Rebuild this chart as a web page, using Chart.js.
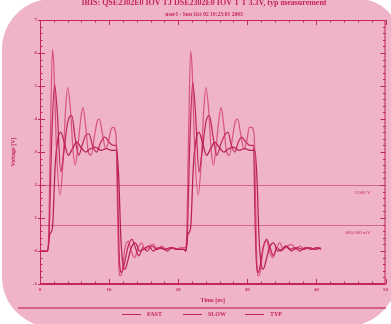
<!DOCTYPE html>
<html><head><meta charset="utf-8">
<script src="https://cdn.jsdelivr.net/npm/chart.js@4.4.1/dist/chart.umd.min.js"></script>
<style>html,body{margin:0;padding:0;background:#fff;}#wrap{width:391px;height:324px;}</style>
</head><body><div id="wrap"><canvas id="c" width="391" height="324"></canvas></div>
<script>
// ---- data ----
const seriesNames = ['FAST', 'SLOW', 'TYP'];

const fastTime = [0,1.0,1.2,1.5,1.8,2.0,2.4,2.9,3.3,3.7,4.0,4.4,4.8,5.1,5.5,5.9,6.2,6.6,7.0,7.4,7.9,8.3,8.6,9.0,9.5,9.9,10.3,10.6,11.0,11.2,11.4,11.6,11.9,12.3,12.8,13.2,13.7,14.2,14.7,15.2,15.8,16.4,17.0,17.6,18.3,19.0,19.7,20.4,21.0,
  21.2,21.5,21.8,22.0,22.4,22.9,23.3,23.7,24.0,24.4,24.8,25.1,25.5,25.9,26.2,26.6,27.0,27.4,27.9,28.3,28.6,29.0,29.5,29.9,30.3,30.6,31.0,31.2,31.4,31.6,31.9,32.3,32.8,33.2,33.7,34.2,34.7,35.2,35.8,36.4,37.0,37.6,38.3,39.0,39.7,40.4];
const fastVolt = [0,0,0.2,3.4,6.1,5.6,3.0,1.7,2.6,4.3,4.95,4.3,3.0,2.6,3.2,4.0,4.35,3.8,3.0,2.9,3.5,3.95,4.0,3.6,3.1,3.3,3.7,3.75,3.5,1.5,-0.4,-0.75,-0.6,0.1,0.3,0.0,-0.2,0.1,0.25,0.05,0.15,0.2,0.05,0.15,0.05,0.1,0.05,0.1,0.1,
  0.3,3.5,6.05,5.6,3.0,1.7,2.6,4.3,4.95,4.3,3.0,2.6,3.2,4.0,4.35,3.8,3.0,2.9,3.5,3.95,4.0,3.6,3.1,3.3,3.75,3.75,3.5,1.5,-0.4,-0.75,-0.6,0.1,0.3,0.0,-0.2,0.1,0.25,0.05,0.15,0.2,0.05,0.15,0.05,0.1,0.05,0.1];

const slowTime = [0,1.1,1.4,1.8,2.2,2.6,3.0,3.5,4.1,4.7,5.3,5.9,6.6,7.3,8.0,8.8,9.6,10.4,11.1,11.4,11.7,12.0,12.3,12.7,13.2,13.8,14.4,15.0,15.7,16.4,17.2,18.0,18.9,19.8,20.9,
  21.1,21.4,21.8,22.2,22.6,23.0,23.5,24.1,24.7,25.3,25.9,26.6,27.3,28.0,28.8,29.6,30.4,31.1,31.4,31.7,32.0,32.3,32.7,33.2,33.8,34.4,35.0,35.7,36.4,37.2,38.0,38.9,39.8,40.6];
const slowVolt = [0,0,0.5,0.7,2.6,3.4,3.6,3.3,2.9,3.1,3.3,3.15,3.0,3.1,3.15,3.05,3.1,3.05,3.05,2.2,0.4,-0.4,-0.55,-0.3,0.1,0.25,0.0,0.05,0.15,0.0,0.1,0.05,0.1,0.05,0.05,
  0.0,0.5,0.7,2.6,3.4,3.6,3.3,2.9,3.1,3.3,3.15,3.0,3.1,3.15,3.05,3.1,3.05,3.05,2.2,0.4,-0.4,-0.55,-0.3,0.1,0.25,0.0,0.05,0.15,0.0,0.1,0.05,0.1,0.05,0.1];

const typTime = [0,1.1,1.3,1.7,2.1,2.5,3.0,3.4,4.0,4.6,5.1,5.6,6.1,6.6,7.1,7.6,8.2,8.8,9.4,10.0,10.6,11.1,11.3,11.5,11.8,12.2,12.7,13.3,13.8,14.3,14.9,15.5,16.2,16.9,17.6,18.4,19.2,20.0,20.8,
  21.1,21.3,21.7,22.1,22.5,23.0,23.4,24.0,24.5,25.1,25.6,26.1,26.7,27.2,27.7,28.2,28.7,29.2,29.8,30.4,30.9,31.1,31.3,31.6,31.9,32.3,32.8,33.3,33.8,34.3,34.9,35.5,36.2,36.9,37.6,38.4,39.2,40.0,40.7];
const typVolt = [0,0,0.4,3.4,5.05,4.2,2.4,2.9,3.9,4.1,3.4,2.9,3.2,3.5,3.55,3.2,3.0,3.3,3.45,3.3,3.2,3.2,1.2,-0.3,-0.65,-0.4,0.1,0.35,0.1,-0.15,0.1,0.0,0.15,0.05,0.1,0.0,0.1,0.05,0.05,
  0,0.4,3.4,5.1,4.2,2.4,2.9,3.9,4.1,3.4,2.9,3.2,3.5,3.6,3.2,3.0,3.3,3.45,3.3,3.2,3.2,1.2,-0.3,-0.65,-0.4,0.1,0.35,0.1,-0.15,0.1,0.0,0.15,0.05,0.1,0.0,0.1,0.05,0.1,0.05];

const refLevels = [2.0, 0.8];
const refLabels = ['2.000 V', '800.000 mV'];
const titleText = 'IBIS: QSE2302E0 IOV TJ DSE2302E0 IOV T T 3.3V, typ measurement';
const subtitleText = 'user1 - Sun Oct 02 19:23:01 2003';
const xTitle = 'Time [ns]';
const yTitle = 'Voltage [V]';

// ---- styling ----
const INK = '#c4255c';
const CARD = '#efb4c9';
const FONT = '"Liberation Serif", "DejaVu Serif", serif';
const lineColors = ['rgba(205,45,95,0.7)', 'rgba(178,20,72,0.92)', 'rgba(186,22,76,0.88)'];

function pts(t, v) { return t.map((x, i) => ({x: x, y: v[i]})); }

const deco = {
  id: 'deco',
  beforeDraw(chart) {
    const c = chart.ctx;
    c.save();
    c.fillStyle = '#ffffff';
    c.fillRect(0, 0, chart.width, chart.height);
    c.fillStyle = CARD;
    c.beginPath();
    c.roundRect(2, -1, 397, 328, [50, 40, 55, 50]);
    c.fill();
    c.restore();
  },
  beforeDatasetsDraw(chart) {
    const c = chart.ctx, a = chart.chartArea, ys = chart.scales.y;
    c.save();
    c.strokeStyle = 'rgba(196,37,92,0.55)';
    c.lineWidth = 1;
    c.fillStyle = INK;
    c.font = '5px ' + FONT;
    c.textAlign = 'right';
    c.textBaseline = 'middle';
    refLevels.forEach((lv, i) => {
      const y = Math.round(ys.getPixelForValue(lv)) + 0.5;
      c.beginPath(); c.moveTo(a.left, y); c.lineTo(a.right, y); c.stroke();
      c.fillText(refLabels[i], a.right - 15, y + 7);
    });
    c.restore();
  },
  afterDraw(chart) {
    const c = chart.ctx, a = chart.chartArea, xs = chart.scales.x, ys = chart.scales.y;
    c.save();
    c.strokeStyle = INK;
    c.lineWidth = 1;
    c.strokeRect(a.left + 0.5, a.top + 0.5, a.right - a.left - 1, a.bottom - a.top - 1);
    for (let k = 0; k <= 25; k++) {
      const v = k * 2;
      const px = Math.round(xs.getPixelForValue(v)) + 0.5;
      const len = (v % 10 === 0) ? 5 : 2.5;
      c.beginPath();
      c.moveTo(px, a.bottom); c.lineTo(px, a.bottom - len);
      c.moveTo(px, a.top); c.lineTo(px, a.top + len);
      c.stroke();
    }
    for (let k = 0; k <= 40; k++) {
      const v = -1 + k * 0.2;
      const py = Math.round(ys.getPixelForValue(v)) + 0.5;
      const major = (k % 5 === 0);
      const len = major ? 5 : 2.5;
      c.beginPath();
      c.moveTo(a.left - (major ? 2 : 0), py); c.lineTo(a.left + len, py);
      c.moveTo(a.right, py); c.lineTo(a.right - len, py);
      c.stroke();
    }
    c.strokeStyle = 'rgba(196,37,92,0.8)';
    c.lineWidth = 1.5;
    c.beginPath(); c.moveTo(18, 308); c.lineTo(386, 308); c.stroke();
    const segX = [122, 183, 245];
    c.font = 'bold 6px ' + FONT;
    c.textAlign = 'left';
    c.textBaseline = 'middle';
    chart.data.datasets.forEach((ds, i) => {
      c.strokeStyle = INK;
      c.lineWidth = 1;
      c.beginPath(); c.moveTo(segX[i], 314.5); c.lineTo(segX[i] + 19, 314.5); c.stroke();
      c.fillStyle = INK;
      c.fillText(ds.label, segX[i] + 25, 314.5);
    });
    c.fillStyle = INK;
    c.textAlign = 'center';
    c.font = 'bold 8px ' + FONT;
    c.fillText(titleText, 204, 3);
    c.font = 'bold 5.5px ' + FONT;
    c.fillText(subtitleText, 204, 15);
    c.restore();
  }
};

new Chart(document.getElementById('c'), {
  type: 'line',
  data: {
    datasets: [
      {label: seriesNames[0], data: pts(fastTime, fastVolt), borderColor: lineColors[0]},
      {label: seriesNames[1], data: pts(slowTime, slowVolt), borderColor: lineColors[1]},
      {label: seriesNames[2], data: pts(typTime, typVolt), borderColor: lineColors[2]}
    ]
  },
  options: {
    responsive: false,
    animation: false,
    devicePixelRatio: 1,
    layout: {padding: {top: 20, right: 4, bottom: 0, left: 0}},
    plugins: {legend: {display: false}, title: {display: false}, tooltip: {enabled: false}},
    elements: {point: {radius: 0}, line: {borderWidth: 1.25, cubicInterpolationMode: 'monotone', fill: false}},
    scales: {
      x: {
        type: 'linear', min: 0, max: 50,
        ticks: {stepSize: 10, color: INK, font: {size: 5, family: FONT, weight: 'bold'}, padding: 3, maxRotation: 0},
        grid: {display: false, drawTicks: false},
        border: {display: true, color: INK, width: 1},
        title: {display: true, text: xTitle, color: INK, font: {size: 6, family: FONT, weight: 'bold'}, padding: {top: 0, bottom: 20}},
        afterFit(s) { s.height = 40; }
      },
      y: {
        type: 'linear', min: -1, max: 7,
        ticks: {stepSize: 1, color: INK, font: {size: 5, family: FONT, weight: 'bold'}, padding: 3},
        grid: {display: false, drawTicks: false},
        border: {display: true, color: INK, width: 1},
        title: {display: true, text: yTitle, color: INK, font: {size: 6, family: FONT, weight: 'bold'}, padding: {top: 10, bottom: 0}},
        afterFit(s) { s.width = 40; }
      }
    }
  },
  plugins: [deco]
});
</script>
</body></html>
